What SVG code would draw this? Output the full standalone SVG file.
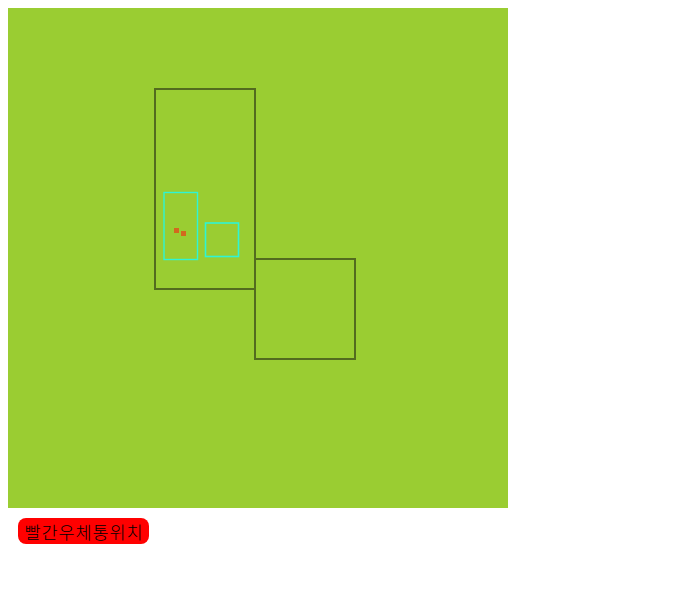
<svg xmlns="http://www.w3.org/2000/svg" width="696" height="593" viewBox="0 0 696 593">
<style>
.box{fill:none;stroke:#536b1f;stroke-width:2}
.cy{fill:none;stroke:#2ef5d5;stroke-width:1.4}
.dot{fill:#d2691e}
.lbl{font-family:"Noto Sans CJK KR","Noto Sans",sans-serif;font-size:17.5px;font-weight:300;fill:#000}
</style>
<rect x="8" y="8" width="500" height="500" fill="#9acd32"/>
<g id="outer1"><rect class="box" x="155" y="89" width="100" height="200"/></g>
<g id="outer2"><rect class="box" x="255" y="259" width="100" height="100"/></g>
<g id="inner1"><rect class="cy" x="164" y="192.5" width="33.5" height="67"/></g>
<g id="inner2"><rect class="cy" x="205.5" y="223" width="33" height="33.5" style="stroke-width:1.6"/></g>
<g id="dots"><rect class="dot" x="174" y="228" width="5" height="5"/><rect class="dot" x="181" y="231" width="5" height="5"/></g>
<g id="connectors"></g>
<g id="label"><rect x="18" y="518" width="131" height="26" rx="8" fill="#ff0000"/><text class="lbl" x="24.5" y="538.5" textLength="118">빨간우체통위치</text></g>
</svg>
